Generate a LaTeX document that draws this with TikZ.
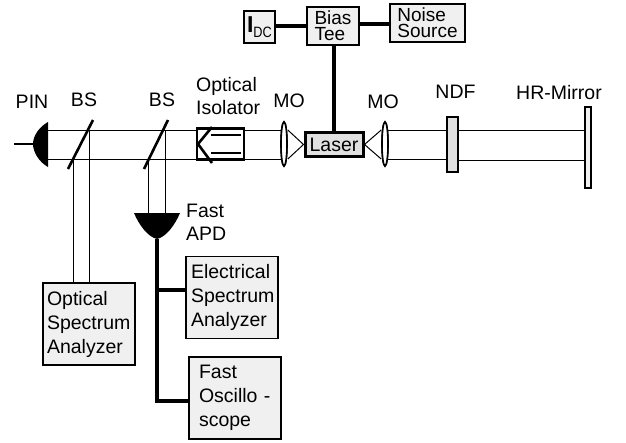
\documentclass[tikz,border=0pt]{standalone}
\usepackage{fontspec}
\setmainfont{Liberation Sans}
\usetikzlibrary{positioning,shapes.geometric}
\definecolor{boxgray}{HTML}{F0F0F0}
\definecolor{midgray}{HTML}{E0E0E0}
\tikzset{
  lbl/.style={inner sep=0pt,align=left,font=\fontsize{19.5}{23}\selectfont},
  smallbox/.style={rectangle,draw=black,line width=1.8pt,fill=boxgray,inner sep=0pt,align=left,font=\fontsize{19}{16}\selectfont},
  instr/.style={rectangle,draw=black,line width=1.8pt,fill=boxgray,minimum width=92pt,minimum height=82pt,align=left,font=\fontsize{19.5}{24}\selectfont},
  lens/.style={ellipse,draw=black,line width=1.6pt,fill=white,minimum width=6pt,minimum height=44pt,inner sep=0pt},
  plate/.style={rectangle,draw=black,line width=1.8pt,inner sep=0pt},
  beam/.style={line width=1pt,draw=black},
  wire/.style={line width=3.2pt,draw=black},
  splitter/.style={line width=2.6pt,draw=black}
}
\begin{document}
\begin{tikzpicture}[x=1pt,y=-1pt]
  \useasboundingbox (0,0) rectangle (626,442);
  % electrical boxes
  \node[smallbox,minimum width=31pt,minimum height=32pt] (idc) at (259.5,27) {\fontsize{23}{23}\selectfont\textbf{I}\raisebox{-5pt}{\fontsize{15}{15}\selectfont\scalebox{0.85}[1]{DC}}};
  \node[smallbox,minimum width=52pt,minimum height=38pt] (biastee) at (333,26) {Bias\\Tee};
  \node[smallbox,minimum width=75pt,minimum height=38pt] (noise) at (427.5,23) {Noise\\Source};
  \node[plate,line width=3pt,fill=midgray,minimum width=58pt,minimum height=24pt,font=\fontsize{19.5}{23}\selectfont] (laser) at (334,144.5) {Laser};
  % optics
  \node[lens] (lensl) at (284,144) {};
  \node[lens] (lensr) at (385,144) {};
  \node[plate,fill=midgray,minimum width=11pt,minimum height=55pt] (ndf) at (452.5,144.5) {};
  \node[plate,fill=boxgray,minimum width=6pt,minimum height=81pt] (mirror) at (588,147.5) {};
  \node[rectangle,draw=black,line width=2.8pt,fill=white,minimum width=47pt,minimum height=31pt,inner sep=0pt] (isolator) at (220.5,144) {};
  % instruments
  \node[instr,inner xsep=4pt,text width=84pt] (osa) at (89,324) {Optical\\Spectrum\\Analyzer};
  \node[instr,inner xsep=5pt,text width=82pt] (esa) at (232,297.5) {Electrical\\Spectrum\\Analyzer};
  \node[instr,inner xsep=10pt,text width=72pt] (scope) at (235,398) {Fast\\\mbox{Oscillo -}\\scope};
  % labels
  \node[lbl] (pinlbl) at (32,102) {PIN};
  \node[lbl] (bsa) at (84,100) {BS};
  \node[lbl] (bsb) at (162,100) {BS};
  \node[lbl,anchor=west] (isolbl) at (196,96) {Optical\\Isolator};
  \node[lbl,above=13pt of lensl,xshift=5pt] (mol) {MO};
  \node[lbl,above=12pt of lensr,xshift=-2pt] (mor) {MO};
  \node[lbl,above=17pt of ndf,xshift=3pt] (ndflbl) {NDF};
  \node[lbl,above=6pt of mirror,xshift=-29pt] (hrlbl) {HR-Mirror};
  \node[lbl,anchor=west] (apdlbl) at (186,222) {Fast\\APD};
  % beam levels
  \coordinate (pintop) at (48,122);
  \coordinate (pinbot) at (48,167);
  \coordinate (pinmid) at (33,144);
  \coordinate (pinlead) at (14,144);
  \coordinate (pinup) at (48,130);
  \coordinate (pindown) at (48,159);
  \coordinate (bsatop) at (93,120);
  \coordinate (bsabot) at (68,169);
  \coordinate (bsbtop) at (168,120);
  \coordinate (bsbbot) at (144,169);
  \coordinate (apdleft) at (134,213);
  \coordinate (apdright) at (180,213);
  \coordinate (apdtip) at (157,239);
  % beams
  \draw[beam] (pinup) -- (pinup -| isolator.west);
  \draw[beam] (pindown) -- (pindown -| isolator.west);
  \draw[beam] (isolator.east |- pinup) -- (lensl.center |- pinup);
  \draw[beam] (isolator.east |- pindown) -- (lensl.center |- pindown);
  \draw[beam] (lensr.center |- pinup) -- (ndf.west |- pinup);
  \draw[beam] (lensr.center |- pindown) -- (ndf.west |- pindown);
  \draw[beam] (ndf.east |- pinup) -- (mirror.west |- pinup);
  \draw[beam] ([yshift=-1pt]ndf.east |- pindown) -- ([yshift=-1pt]mirror.west |- pindown);
  \draw[beam] (73,159) -- (73,283);
  \draw[beam] (89,130) -- (89,283);
  \draw[beam] (148,159) -- (148,213);
  \draw[beam] (165,130) -- (165,213);
  \node[lens] at (lensl) {};
  \node[lens] at (lensr) {};
  \draw[beam] (lensl.east |- pinup) -- (laser.west) -- (lensl.east |- pindown);
  \draw[beam] (lensr.west |- pinup) -- (laser.east) -- (lensr.west |- pindown);
  % beam splitters and detectors
  \draw[splitter] (bsatop) -- (bsabot);
  \draw[splitter] (bsbtop) -- (bsbbot);
  \fill (pintop) .. controls (39,127) and (33,136) .. (pinmid) .. controls (33,152) and (39,162) .. (pinbot) -- cycle;
  \fill (apdleft) -- (apdright) .. controls (175,225) and (166,237) .. (apdtip) .. controls (148,237) and (139,225) .. (apdleft) -- cycle;
  \draw[line width=1.4pt] (pinlead) -- (pinmid);
  % isolator arrow
  \draw[line width=2.6pt] (212,127) -- (198,144) -- (212,163);
  \draw[line width=2.6pt] (211,135) -- (241,135);
  \draw[line width=2.6pt] (211,153) -- (241,153);
  % wires
  \draw[wire] (idc.east |- 0,26) -- (biastee.west);
  \draw[wire] (biastee.east |- 0,24) -- (noise.west |- 0,24);
  \draw[wire] (biastee.south -| laser.north) -- (laser.north);
  \draw[wire] (apdtip) |- ([yshift=-3pt]scope.west);
  \draw[wire] (apdtip |- 0,290) -- (esa.west |- 0,290);
\end{tikzpicture}
\end{document}
